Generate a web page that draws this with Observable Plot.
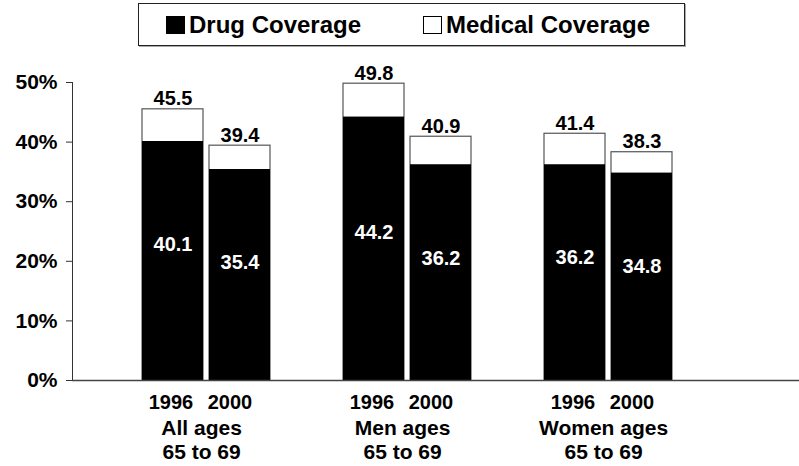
<!DOCTYPE html>
<html><head><meta charset="utf-8">
<script src="https://cdn.jsdelivr.net/npm/d3@7"></script>
<script src="https://cdn.jsdelivr.net/npm/@observablehq/plot@0.6"></script>
<style>
body{margin:0;background:#fff;font-family:"Liberation Sans",Arial,sans-serif;}
#wrap{position:relative;width:799px;height:466px;overflow:hidden;}
#legend{position:absolute;left:138px;top:3px;width:545px;height:41px;border:1px solid #222;box-shadow:1px 1px 0 #aaa;background:#fff;z-index:2;}
.item{position:absolute;top:0;height:41px;line-height:41px;font-weight:bold;font-size:24px;color:#000;white-space:nowrap;}
.sw{display:inline-block;width:19px;height:18px;box-sizing:border-box;vertical-align:-1px;margin-right:4px;}
</style></head>
<body><div id="wrap"><div id="legend"></div></div>
<script>
const groups = ["All ages\n65 to 69", "Men ages\n65 to 69", "Women ages\n65 to 69"];
const years = ["1996", "2000"];
const drugCoverage = [40.1, 35.4, 44.2, 36.2, 36.2, 34.8];
const totalCoverage = [45.5, 39.4, 49.8, 40.9, 41.4, 38.3];
const yTicks = [0, 10, 20, 30, 40, 50];
const seriesNames = ["Drug Coverage", "Medical Coverage"];
const seriesColors = ["#000", "#fff"];

const rows = [];
groups.forEach((g, gi) => years.forEach((y, yi) => {
  const i = gi * years.length + yi;
  rows.push({group: g, year: y, key: g + "|" + y, drug: drugCoverage[i], total: totalCoverage[i]});
}));
const xDomain = [];
groups.forEach((g, gi) => {
  years.forEach(y => xDomain.push(g + "|" + y));
  if (gi < groups.length - 1) xDomain.push("gap" + gi);
});
const xRange = [138.7, 675.7], pIn = 0.09, pOut = 0.045;
const step = (xRange[1] - xRange[0]) / (xDomain.length - pIn + 2 * pOut);
const groupRows = groups.map(g => ({group: g, key: g + "|" + years[0]}));

const chart = Plot.plot({
  width: 799, height: 466,
  marginLeft: 72, marginRight: 0, marginTop: 82, marginBottom: 86,
  style: {fontFamily: "Liberation Sans, Arial, sans-serif", fontSize: "20px", fontWeight: "bold", color: "#000", background: "transparent", overflow: "visible"},
  x: {type: "band", domain: xDomain, range: xRange, paddingInner: pIn, paddingOuter: pOut},
  y: {domain: [0, 50]},
  marks: [
    Plot.barY(rows, {x: "key", y1: 0, y2: "total", fill: seriesColors[1], stroke: "#555", strokeWidth: 1.2}),
    Plot.barY(rows, {x: "key", y1: 0, y2: "drug", fill: seriesColors[0]}),
    Plot.text(rows, {x: "key", y: "total", text: d => d.total.toFixed(1), lineAnchor: "bottom", dy: -4, fontSize: 20, fontWeight: "bold", fill: "#000"}),
    Plot.text(rows, {x: "key", y: d => d.total / 2, text: d => d.drug.toFixed(1), fontSize: 20, fontWeight: "bold", fill: "#fff"}),
    Plot.frame({anchor: "left", stroke: "#333"}),
    Plot.ruleY([0], {stroke: "#444", strokeWidth: 1.5}),
    Plot.axisY({ticks: yTicks, tickFormat: d => d + "%", tickSize: 6, tickPadding: 9, label: null, fontSize: 21, fontWeight: "bold", stroke: "#333"}),
    Plot.axisX({ticks: rows.filter(d => d.year === years[0]).map(d => d.key), tickFormat: d => d.split("|")[1], tickSize: 0, tickPadding: 14, dx: -2, label: null, fontSize: 20, fontWeight: "bold"}),
    Plot.axisX({ticks: rows.filter(d => d.year === years[1]).map(d => d.key), tickFormat: d => d.split("|")[1], tickSize: 0, tickPadding: 14, dx: -10, label: null, fontSize: 20, fontWeight: "bold"}),
    Plot.text(groupRows, {x: "key", y: 0, dx: step / 2 - 5, dy: 37, text: "group", lineAnchor: "top", lineHeight: 1.15, fontSize: 21, fontWeight: "bold", fill: "#000"})
  ]
});
document.getElementById("wrap").appendChild(chart);

const legend = document.getElementById("legend");
const legendLeft = [27, 284];
seriesNames.forEach((name, i) => {
  const item = document.createElement("div");
  item.className = "item";
  item.style.left = legendLeft[i] + "px";
  const sw = document.createElement("span");
  sw.className = "sw";
  sw.style.background = seriesColors[i];
  sw.style.border = "1px solid #000";
  item.appendChild(sw);
  item.appendChild(document.createTextNode(name));
  legend.appendChild(item);
});
</script>
</body></html>
